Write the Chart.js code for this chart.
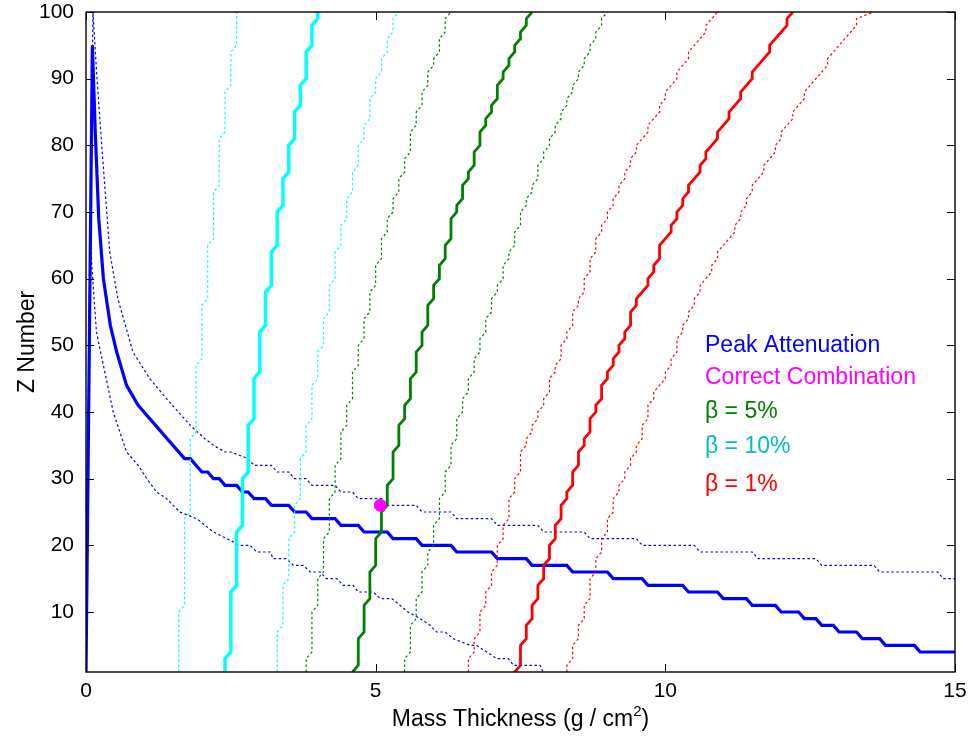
<!DOCTYPE html>
<html><head><meta charset="utf-8">
<script src="https://cdn.jsdelivr.net/npm/chart.js@4.4.1/dist/chart.umd.min.js"></script>
<style>html,body{margin:0;padding:0;background:#fff}#wrap{width:971px;height:737px;position:relative}</style>
</head><body><div id="wrap"><canvas id="c" width="971" height="737"></canvas></div>
<script>
// ---------- axis data ----------
const xTicks = [0, 5, 10, 15];
const yTicks = [10, 20, 30, 40, 50, 60, 70, 80, 90, 100];
const xRange = [0, 15];
const zRange = [1, 100];
const xTitle = 'Mass Thickness (g / cm';
const xTitleSup = '2';
const yTitle = 'Z Number';

// ---------- Peak attenuation (Z vs thickness) ----------
const peakX = [0,0.11,0.16,0.22,0.3,0.42,0.53,0.7,0.9,1.7,1.8,2.0,2.1,2.2,2.3,2.4,2.6,2.7,2.8,2.9,3.1,3.2,3.5,3.6,3.8,3.9,4.3,4.4,4.7,4.8,5.2,5.3,5.7,5.8,6.3,6.4,7.0,7.1,7.6,7.7,8.3,8.4,9.0,9.1,9.6,9.7,10.3,10.4,10.9,11.0,11.4,11.5,11.9,12.0,12.3,12.4,12.6,12.7,12.9,13.0,13.3,13.4,13.7,13.8,14.3,14.4,15];
const peakZ = [1,95,82,69,60,53,49,44,41,33,33,31,31,30,30,29,29,28,28,27,27,26,26,25,25,24,24,23,23,22,22,21,21,20,20,19,19,18,18,17,17,16,16,15,15,14,14,13,13,12,12,11,11,10,10,9,9,8,8,7,7,6,6,5,5,4,4];
const peakHiX = [0,0.12,0.19,0.28,0.41,0.55,0.81,1.1,1.39,1.8,2.05,2.2,2.4,2.5,2.8,2.9,3.2,3.3,3.5,3.6,3.8,3.9,4.3,4.4,4.6,4.7,5.1,5.2,5.7,5.8,6.3,6.4,7.0,7.1,7.8,7.9,8.6,8.7,9.5,9.6,10.5,10.6,11.5,11.6,12.6,12.7,13.6,13.7,14.7,14.8,15];
const peakHiZ = [1,100,90,79,64,57,49,45,42,38,36,35,34,34,33,32,32,31,31,30,30,29,29,28,28,27,27,26,26,25,25,24,24,23,23,22,22,21,21,20,20,19,19,18,18,17,17,16,16,15,15];
const peakLoX = [0,0.07,0.1,0.18,0.3,0.47,0.7,0.9,1.05,1.22,1.39,1.62,1.91,2.2,2.43,2.66,2.83,2.95,3.18,3.23,3.46,3.58,3.75,3.87,4.04,4.15,4.33,4.44,4.61,4.7,4.96,5.08,5.28,5.42,5.56,5.77,5.94,6.05,6.2,6.34,6.63,6.74,6.92,7.09,7.29,7.38,7.84,7.89];
const peakLoZ = [1,67,62,52,47,40,34,32,30,28,27,25,24,22,21,20,20,19,19,18,18,17,17,16,16,15,15,14,14,13,13,12,12,11,10,9,8,7,7,6,5,5,4,3,3,2,2,1];

// ---------- beta curves: thickness level and first Z of that level ----------
const Z_LAST = 100;
const b10X   = [2.4,2.5,2.6,2.7,2.8,2.9,3.0,3.1,3.2,3.3,3.4,3.5,3.6,3.7,3.8,3.9,4.0];
const b10Z   = [1,4,14,23,31,39,46,53,59,65,71,76,81,86,90,95,99];
const b10LoX = [1.6,1.7,1.8,1.9,2.0,2.1,2.2,2.3,2.4,2.5,2.6];
const b10LoZ = [1,11,25,37,48,57,66,74,82,89,95];
const b10HiX = [3.3,3.4,3.5,3.6,3.7,3.8,3.9,4.0,4.1,4.2,4.3,4.4,4.5,4.6,4.7,4.8,4.9,5.0,5.1,5.2,5.3,5.4];
const b10HiZ = [1,8,15,22,27,34,39,45,50,55,60,65,69,73,77,81,84,88,91,94,97,100];

const b5X   = [4.6,4.7,4.8,4.9,5.0,5.1,5.2,5.3,5.4,5.5,5.6,5.7,5.8,5.9,6.0,6.1,6.2,6.3,6.4,6.5,6.6,6.7,6.8,6.9,7.0,7.1,7.2,7.3,7.4,7.5,7.6,7.7];
const b5Z   = [1,2,7,12,17,22,26,30,35,39,42,46,50,53,57,60,63,66,70,72,75,77,80,83,85,87,90,92,94,96,98,100];
const b5LoX = [3.8,3.9,4.0,4.1,4.2,4.3,4.4,4.5,4.6,4.7,4.8,4.9,5.0,5.1,5.2,5.3,5.4,5.5,5.6,5.7,5.8,5.9,6.0,6.1,6.2,6.3];
const b5LoZ = [1,4,11,16,22,28,33,38,42,47,51,55,59,63,67,70,73,76,79,83,86,89,92,94,97,100];
const b5HiX = [5.5,5.6,5.7,5.8,5.9,6.0,6.1,6.2,6.3,6.4,6.5,6.6,6.7,6.8,6.9,7.0,7.1,7.2,7.3,7.4,7.5,7.6,7.7,7.8,7.9,8.0,8.1,8.2,8.3,8.4,8.5,8.6,8.7,8.8,8.9,9.0];
const b5HiZ = [1,4,9,13,17,20,24,28,32,36,40,43,46,49,52,55,58,60,63,65,68,71,73,75,78,80,82,84,86,88,90,92,94,96,98,100];

const b1X   = [7.4,7.5,7.6,7.7,7.8,7.9,8.0,8.1,8.2,8.3,8.4,8.5,8.6,8.7,8.8,8.9,9.0,9.1,9.2,9.3,9.4,9.5,9.6,9.7,9.8,9.9,10.0,10.1,10.2,10.3,10.4,10.5,10.6,10.7,10.8,10.9,11.0,11.1,11.2,11.3,11.4,11.5,11.6,11.7,11.8,11.9,12.0,12.1,12.2];
const b1Z   = [1,2,6,9,12,15,18,21,24,27,29,32,35,37,40,42,45,47,49,51,53,56,58,59,61,63,66,67,69,71,73,75,76,78,80,81,83,84,86,87,89,90,92,93,94,96,97,98,100];
const b1LoX = [6.6,6.7,6.8,6.9,7.0,7.1,7.2,7.3,7.4,7.5,7.6,7.7,7.8,7.9,8.0,8.1,8.2,8.3,8.4,8.5,8.6,8.7,8.8,8.9,9.0,9.1,9.2,9.3,9.4,9.5,9.6,9.7,9.8,9.9,10.0,10.1,10.2,10.3,10.4,10.5,10.6,10.7,10.8,10.9];
const b1LoZ = [1,4,7,11,14,17,21,24,28,31,35,37,39,41,43,46,48,51,53,56,58,61,64,67,69,71,73,75,77,79,81,82,84,85,87,89,90,92,93,95,96,97,99,100];
const b1HiX = [8.3,8.4,8.5,8.6,8.7,8.8,8.9,9.0,9.1,9.2,9.3,9.4,9.5,9.6,9.7,9.8,9.9,10.0,10.1,10.2,10.3,10.4,10.5,10.6,10.7,10.8,10.9,11.0,11.1,11.2,11.3,11.4,11.5,11.6,11.7,11.8,11.9,12.0,12.1,12.2,12.3,12.4,12.5,12.6,12.7,12.8,12.9,13.0,13.1,13.2,13.3,13.6];
const b1HiZ = [1,3,6,9,12,16,19,22,25,28,30,32,34,36,39,42,44,45,47,49,52,54,56,58,60,61,63,65,66,67,69,71,73,75,76,78,79,81,83,84,86,87,89,90,91,92,94,95,96,97,98,100];

// ---------- correct combination ----------
const correctX = [5.08];
const correctZ = [26];

// ---------- legend ----------
const legendLabels = ['Peak Attenuation', 'Correct Combination', '\u03B2 = 5%', '\u03B2 = 10%', '\u03B2 = 1%'];
const legendColors = ['#0000ff', '#ff00ff', '#008000', '#00bfbf', '#ff0000'];

// ---------- build ----------
function pairs(xs, zs) { return xs.map((x, i) => ({ x: x, y: zs[i] })); }
function steps(levels, starts) {
  const pts = [];
  for (let i = 0; i < levels.length; i++) {
    const z0 = starts[i];
    const z1 = i + 1 < starts.length ? starts[i + 1] - 1 : Z_LAST;
    pts.push({ x: levels[i], y: z0 });
    if (z1 > z0) pts.push({ x: levels[i], y: z1 });
  }
  return pts;
}
const FONT = "'Liberation Sans', Arial, Helvetica, sans-serif";
const TICK_PX = 21, TITLE_PX = 23, LEGEND_PX = 23;
function line(data, color, width, dashed, order) {
  return { data, borderColor: color, backgroundColor: color, borderWidth: width,
    borderDash: dashed ? [2.5, 2.5] : [], showLine: true, pointRadius: 0, fill: false,
    tension: 0, order, borderJoinStyle: 'miter', borderCapStyle: 'butt' };
}
const datasets = [
  { data: pairs(correctX, correctZ), pointRadius: 6, pointBackgroundColor: '#ff00ff',
    pointBorderColor: '#ff00ff', showLine: false, order: 0 },
  line(steps(b1X, b1Z), '#ff0000', 2.8, false, 1),
  line(steps(b1LoX, b1LoZ), '#ff0000', 1.2, true, 2),
  line(steps(b1HiX, b1HiZ), '#ff0000', 1.2, true, 2),
  line(steps(b5X, b5Z), '#008000', 2.8, false, 3),
  line(steps(b5LoX, b5LoZ), '#008000', 1.2, true, 4),
  line(steps(b5HiX, b5HiZ), '#008000', 1.2, true, 4),
  line(steps(b10X, b10Z), '#00ffff', 3.5, false, 5),
  line(steps(b10LoX, b10LoZ), '#00ffff', 1.2, true, 6),
  line(steps(b10HiX, b10HiZ), '#00ffff', 1.2, true, 6),
  line(pairs(peakX, peakZ), '#0000ff', 3.2, false, 7),
  line(pairs(peakHiX, peakHiZ), '#0000ff', 1.2, true, 8),
  line(pairs(peakLoX, peakLoZ), '#0000ff', 1.2, true, 8)
];

const frame = {
  id: 'frame',
  afterDraw(chart) {
    const { ctx, chartArea: a, scales } = chart;
    ctx.save();
    ctx.strokeStyle = '#000';
    ctx.lineWidth = 1.4;
    ctx.strokeRect(a.left, a.top, a.right - a.left, a.bottom - a.top);
    ctx.lineWidth = 1;
    const L = 8;
    ctx.beginPath();
    xTicks.forEach(v => {
      const p = Math.round(scales.x.getPixelForValue(v)) + 0.5;
      ctx.moveTo(p, a.bottom); ctx.lineTo(p, a.bottom - L);
      ctx.moveTo(p, a.top); ctx.lineTo(p, a.top + L);
    });
    yTicks.forEach(v => {
      const p = Math.round(scales.y.getPixelForValue(v)) + 0.5;
      ctx.moveTo(a.left, p); ctx.lineTo(a.left + L, p);
      ctx.moveTo(a.right, p); ctx.lineTo(a.right - L, p);
    });
    ctx.stroke();
    // axis titles
    ctx.fillStyle = '#000';
    const supPx = Math.round(TITLE_PX * 0.65);
    ctx.font = TITLE_PX + 'px ' + FONT;
    ctx.textBaseline = 'alphabetic';
    const w1 = ctx.measureText(xTitle).width;
    ctx.font = supPx + 'px ' + FONT;
    const w2 = ctx.measureText(xTitleSup).width;
    ctx.font = TITLE_PX + 'px ' + FONT;
    const w3 = ctx.measureText(')').width;
    const cx = (a.left + a.right) / 2;
    const sx = cx - (w1 + w2 + w3) / 2;
    const by = 726;
    ctx.textAlign = 'left';
    ctx.fillText(xTitle, sx, by);
    ctx.font = supPx + 'px ' + FONT;
    ctx.fillText(xTitleSup, sx + w1, by - 10);
    ctx.font = TITLE_PX + 'px ' + FONT;
    ctx.fillText(')', sx + w1 + w2, by);
    ctx.save();
    ctx.translate(28, (a.top + a.bottom) / 2);
    ctx.rotate(-Math.PI / 2);
    ctx.textAlign = 'center';
    ctx.textBaseline = 'middle';
    ctx.fillText(yTitle, 0, 0);
    ctx.restore();
    // legend text
    ctx.font = LEGEND_PX + 'px ' + FONT;
    ctx.textAlign = 'left';
    ctx.textBaseline = 'middle';
    const ys = [346, 378, 412, 447, 485];
    legendLabels.forEach((t, i) => {
      ctx.fillStyle = legendColors[i];
      ctx.fillText(t, 705, ys[i]);
    });
    ctx.restore();
  }
};

new Chart(document.getElementById('c'), {
  type: 'scatter',
  data: { datasets },
  plugins: [frame],
  options: {
    responsive: false, animation: false, devicePixelRatio: 1, events: [],
    layout: { padding: { top: 12, right: 16, left: 0, bottom: 0 } },
    plugins: { legend: { display: false }, tooltip: { enabled: false } },
    scales: {
      x: { type: 'linear', min: xRange[0], max: xRange[1],
        afterBuildTicks(s) { s.ticks = xTicks.map(v => ({ value: v })); },
        afterFit(s) { s.height = 65; s.paddingLeft = 0; s.paddingRight = 0; },
        grid: { display: false, drawTicks: false }, border: { display: false },
        ticks: { color: '#000', font: { family: FONT, size: TICK_PX }, padding: 7, maxRotation: 0 } },
      y: { type: 'linear', min: zRange[0], max: zRange[1],
        afterBuildTicks(s) { s.ticks = yTicks.map(v => ({ value: v })); },
        afterFit(s) { s.width = 86; s.paddingTop = 0; s.paddingBottom = 0; },
        grid: { display: false, drawTicks: false }, border: { display: false },
        ticks: { color: '#000', font: { family: FONT, size: TICK_PX }, padding: 12 } }
    }
  }
});
</script></body></html>
